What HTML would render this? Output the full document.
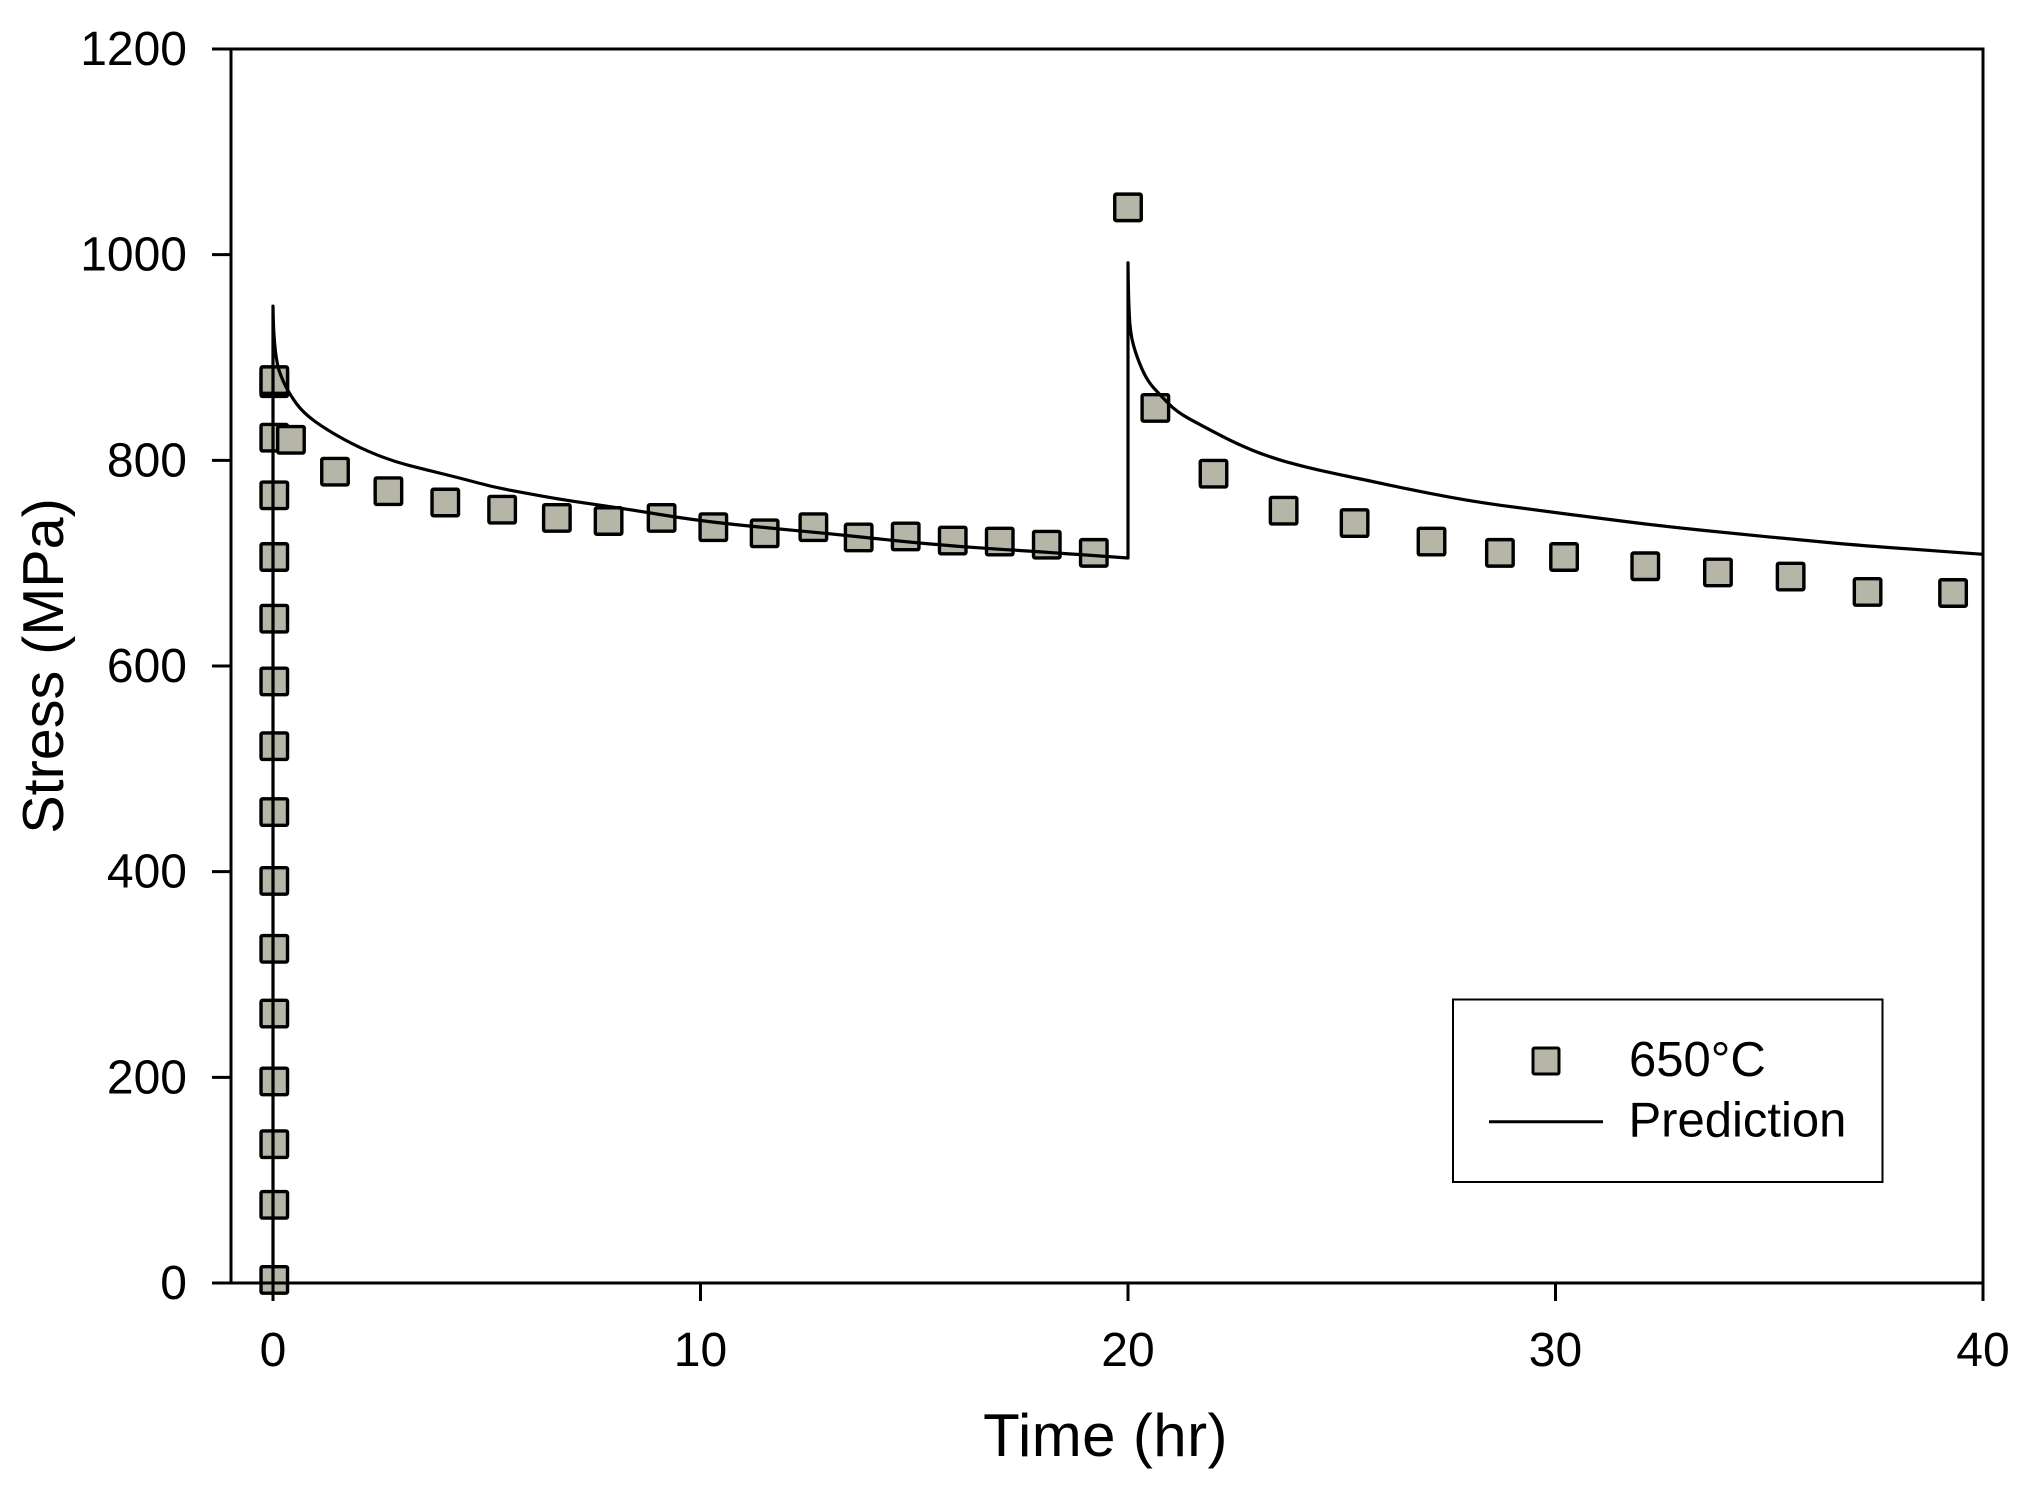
<!DOCTYPE html>
<html>
<head>
<meta charset="utf-8">
<title>Stress vs Time</title>
<style>
html,body{margin:0;padding:0;background:#fff;width:2030px;height:1490px;overflow:hidden}
svg{display:block}
text{font-family:"Liberation Sans",sans-serif;fill:#000}
</style>
</head>
<body>
<svg id="chart" xmlns="http://www.w3.org/2000/svg" width="2030" height="1490" viewBox="0 0 2030 1490">
  <rect x="0" y="0" width="2030" height="1490" fill="#fff"/>
  <g id="marks"></g>
  <g id="axes"></g>
  <text x="1105.5" y="1456" font-size="60" text-anchor="middle" letter-spacing="0.4">Time (hr)</text>
  <text transform="translate(63,666) rotate(-90)" font-size="57.5" text-anchor="middle">Stress (MPa)</text>
  <g>
    <rect x="1453" y="999.5" width="429.5" height="182.5" fill="#fff" stroke="#000" stroke-width="2"/>
    <rect x="1533" y="1048" width="26" height="26" rx="1.5" fill="#b5b5a8" stroke="#000" stroke-width="3"/>
    <text x="1629" y="1076" font-size="49">650°C</text>
    <line x1="1489" y1="1121.7" x2="1603" y2="1121.7" stroke="#000" stroke-width="3"/>
    <text x="1628.5" y="1136.7" font-size="49">Prediction</text>
  </g>
</svg>
<script>
const xTicks = [0, 10, 20, 30, 40];
const yTicks = [0, 200, 400, 600, 800, 1000, 1200];
const measuredTime = [0.03,0.03,0.03,0.03,0.03,0.03,0.03,0.03,0.03,0.03,0.03,0.03,0.03,0.03,0.03,0.03,0.42,1.45,2.7,4.03,5.36,6.64,7.85,9.09,10.3,11.5,12.64,13.7,14.8,15.9,17,18.1,19.2,20,20.64,22,23.64,25.3,27.1,28.7,30.2,32.1,33.8,35.5,37.3,39.3];
const measuredStress = [3,76,135,196,262,325,391,458,522,585,646,706,766,822,875,878,820,789,770,759,752,744,741,744,735,729,735,725,726,722,721,718,710,1046,851,787,751,739,721,710,706,697,691,687,672,671];
const predictionTime = [0,0,0.01,0.09,0.2,0.4,0.71,1.26,2.03,2.81,3.6,4.37,5.15,5.93,6.71,8.27,9.83,11.39,12.95,14.5,16.07,17.63,20,20,20.01,20.05,20.2,20.44,20.75,21.14,21.76,22.54,23.32,24.1,24.88,25.66,26.5,27.92,29.47,31.04,32.6,34.15,35.72,37.28,38.06,40];
const predictionStress = [0,950,924,894,880,863.5,846,829.5,812,799,790.6,782.8,774,768,762,752.7,742,735,729,722,716,712,705,992,959,924,901,878,863.5,847,833,816,803,794,786.7,780,772.5,760.8,752,743.6,735.5,729,722.5,716.8,714.5,708.6];

const NS = 'http://www.w3.org/2000/svg';
const plotLeft = 231, plotTop = 49, plotBottom = 1283;
const x0 = 273, x40 = 1983;
function xScale(v){ return x0 + (v - 0) / 40 * (x40 - x0); }
function yScale(v){ return plotBottom - v / 1200 * (plotBottom - plotTop); }
const axes = document.getElementById('axes');
const marks = document.getElementById('marks');
function make(tag, attrs, parent){
  const el = document.createElementNS(NS, tag);
  for (const k in attrs) el.setAttribute(k, attrs[k]);
  parent.appendChild(el);
  return el;
}
const lineStyle = {stroke:'#000','stroke-width':3,fill:'none','stroke-linecap':'butt'};

const spines = make('path', Object.assign({d:
  'M'+plotLeft+' '+plotBottom+'V'+plotTop+'H'+xScale(40)+'V'+plotBottom+'H'+plotLeft}, lineStyle), axes);



xTicks.forEach(function(t){
  const x = xScale(t);
  const tick = make('line', Object.assign({x1:x,x2:x,y1:plotBottom,y2:plotBottom+18}, lineStyle), axes);
  
  
  const label = make('text', {x:x,y:1366,'font-size':48,'text-anchor':'middle'}, axes);
  
  
  label.textContent = t;
});
yTicks.forEach(function(t){
  const y = yScale(t);
  const tick = make('line', Object.assign({x1:212,x2:plotLeft,y1:y,y2:y}, lineStyle), axes);
  
  
  const label = make('text', {x:187,y:y+16,'font-size':48,'text-anchor':'end'}, axes);
  
  
  label.textContent = t;
});

measuredTime.forEach(function(t, i){
  const size = 26.5;
  const sq = make('rect', {x:xScale(t)-size/2,y:yScale(measuredStress[i])-size/2,width:size,height:size,rx:1.5,fill:'#b5b5a8',stroke:'#000','stroke-width':3.4}, marks);
  
  
});

let d = '';
predictionTime.forEach(function(t, i){
  const px = xScale(t), py = yScale(predictionStress[i]);
  if (i === 0) { d += 'M' + px.toFixed(1) + ' ' + py.toFixed(1); return; }
  const last = i === predictionTime.length - 1;
  if (last || predictionTime[i + 1] === t || predictionTime[i - 1] === t) {
    d += 'L' + px.toFixed(1) + ' ' + py.toFixed(1);
    return;
  }
  const mx = (px + xScale(predictionTime[i + 1])) / 2;
  const my = (py + yScale(predictionStress[i + 1])) / 2;
  d += 'Q' + px.toFixed(1) + ' ' + py.toFixed(1) + ' ' + mx.toFixed(1) + ' ' + my.toFixed(1);
});
const predLine = make('path', Object.assign({d:d,'stroke-linejoin':'round'}, lineStyle), marks);
predLine.setAttribute('stroke-width', '3.2');


</script>
</body>
</html>
